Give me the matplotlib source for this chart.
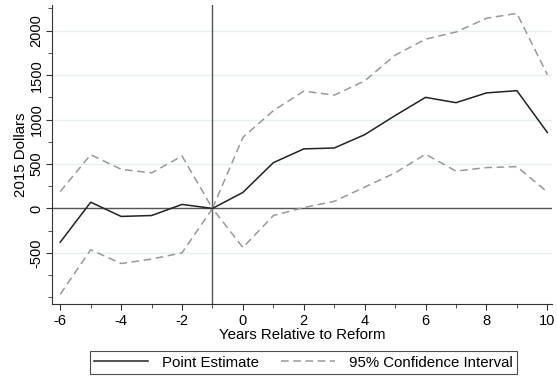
import numpy as np
import matplotlib.pyplot as plt
from matplotlib.ticker import MultipleLocator

plt.rcParams['font.family'] = ['Liberation Sans', 'DejaVu Sans']
plt.rcParams['axes.unicode_minus'] = False

years = np.arange(-6, 11)
point = [-380, 70, -90, -80, 45, 0, 180, 515, 670, 680, 830, 1045, 1250, 1190, 1300, 1325, 855]
upper = [190, 605, 440, 400, 590, 0, 800, 1100, 1320, 1275, 1435, 1725, 1905, 1985, 2140, 2195, 1505]
lower = [-965, -465, -620, -570, -500, 0, -440, -80, 10, 80, 240, 400, 610, 420, 460, 470, 185]

fig = plt.figure(figsize=(5.57, 3.79), dpi=100)
ax = fig.add_axes([0.0934, 0.198, 0.898, 0.789])

ax.yaxis.grid(True, color='#e6efef', linewidth=0.9)
ax.set_axisbelow(True)
ax.axhline(0, color='#555555', linewidth=1.0, zorder=1)
ax.axvline(-1, color='#555555', linewidth=1.0, zorder=1)

l1, = ax.plot(years, point, color='#222222', linewidth=1.1, label='Point Estimate', zorder=3)
l2, = ax.plot(years, upper, color='#999999', linewidth=1.1, dashes=(5, 3), label='95% Confidence Interval', zorder=2)
ax.plot(years, lower, color='#999999', linewidth=1.1, dashes=(5, 3), zorder=2)

ax.set_xlim(-6.27, 10.16)
ax.set_ylim(-1075, 2290)
ax.set_xticks(range(-6, 11, 2))
ax.xaxis.set_minor_locator(MultipleLocator(1))
ax.set_yticks([-500, 0, 500, 1000, 1500, 2000])
ax.yaxis.set_minor_locator(MultipleLocator(250))
for lab in ax.get_yticklabels():
    lab.set_rotation(90)
    lab.set_va('center')
ax.tick_params(axis='both', labelsize=10.5, color='#333333', length=4)
ax.tick_params(axis='both', which='minor', length=3, color='#333333')
ax.tick_params(axis='y', pad=2)

for s in ['top', 'right']:
    ax.spines[s].set_visible(False)
for s in ['left', 'bottom']:
    ax.spines[s].set_color('#333333')

ax.set_xlabel('Years Relative to Reform', fontsize=10.8, labelpad=0)
ax.set_ylabel('2015 Dollars', fontsize=10.8, labelpad=1)

leg = fig.legend(handles=[l1, l2], loc='center', bbox_to_anchor=(0.545, 0.043), ncol=2,
                 fontsize=10.8, frameon=True, fancybox=False, edgecolor='#222222',
                 handlelength=3.6, handletextpad=0.9, columnspacing=1.5, borderpad=0.3)
leg.get_frame().set_linewidth(0.8)

fig.savefig('out.png', dpi=100)
